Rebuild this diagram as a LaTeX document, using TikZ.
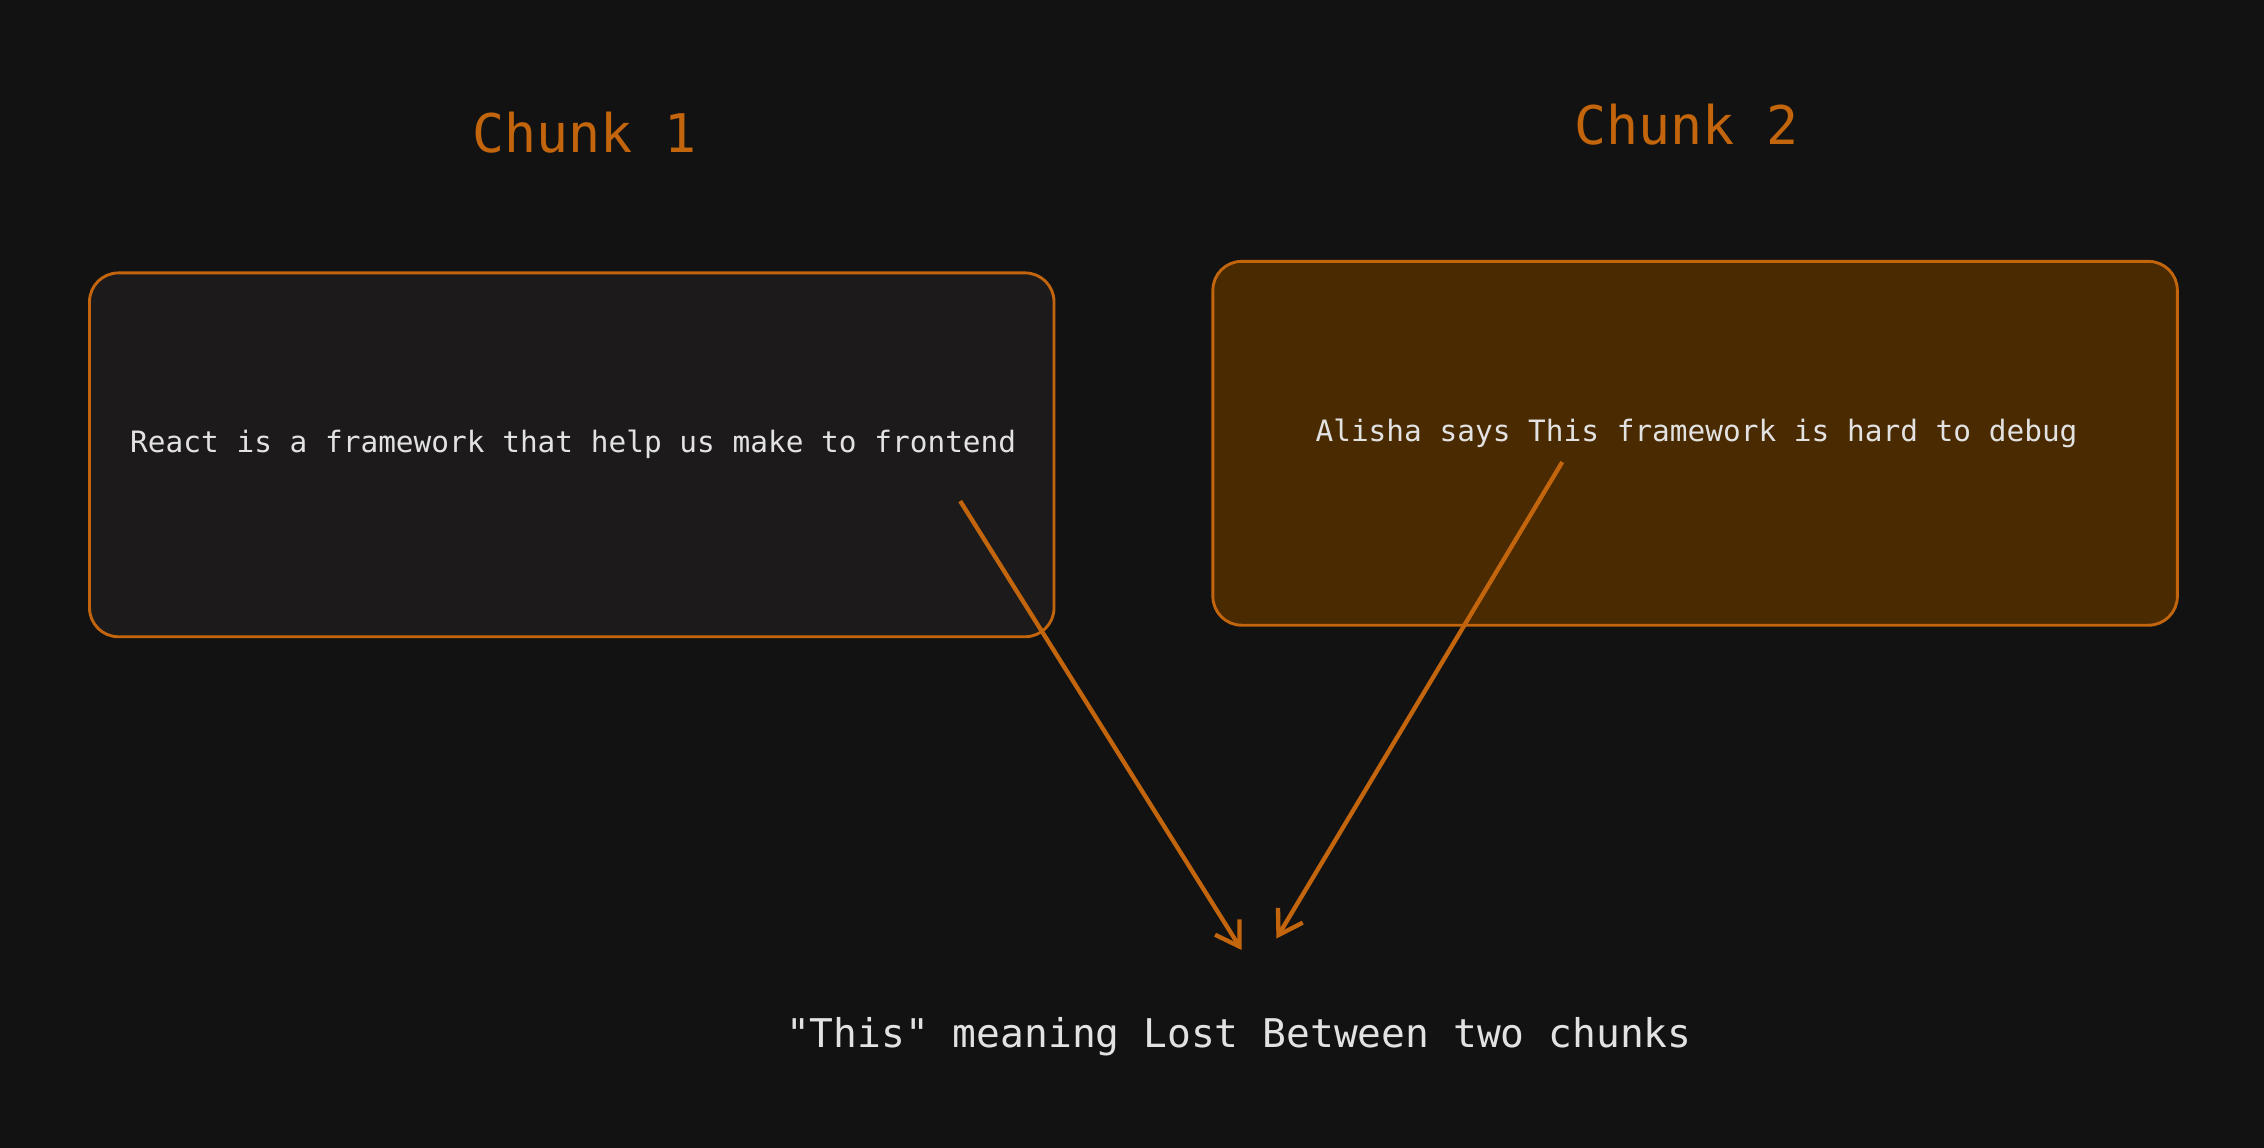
\documentclass[tikz,border=0pt]{standalone}
\usepackage{fontspec}
\setmonofont{DejaVu Sans Mono}
\usetikzlibrary{positioning,arrows.meta}
\definecolor{bgdark}{HTML}{121212}
\definecolor{chunkorange}{HTML}{C2650C}
\definecolor{chunkfill}{HTML}{4A2A00}
\definecolor{hatchfill}{HTML}{1C1A1A}
\definecolor{lighttext}{HTML}{E2E2E2}
\tikzset{
    chunk/.style={rectangle, rounded corners=2mm, draw=chunkorange, line width=0.2mm,
        minimum width=66.8mm, minimum height=25.2mm},
    chunktext/.style={text=lighttext, font=\ttfamily\fontsize{5.8}{7}\selectfont},
    title/.style={text=chunkorange, font=\ttfamily\fontsize{10.5}{12}\selectfont},
    line/.style={-{Straight Barb[length=1.6mm,width=2mm]}, chunkorange, line width=0.3mm},
}
\begin{document}
\begin{tikzpicture}[x=0.1mm,y=-0.1mm]
    \fill[bgdark] (0,0) rectangle (1568,795);
    \useasboundingbox (0,0) rectangle (1568,795);

    % Chunks
    \node[chunk, fill=hatchfill] (chunka) at (396,315) {};
    \node[chunk, fill=chunkfill] (chunkb) at (1174,307) {};
    \node[chunktext] (texta) at (397,308) {React is a framework that help us make to frontend};
    \node[chunktext] (textb) at (1175,300) {Alisha says This framework is hard to debug};
    \node[title] (titlea) at (405,92) {Chunk 1};
    \node[title] (titleb) at (1168,86) {Chunk 2};

    % Result
    \node[text=lighttext, font=\ttfamily\fontsize{7.8}{9}\selectfont] (lost) at (858,718) {"This" meaning Lost Between two chunks};
    \coordinate (fromA) at (665,347);
    \coordinate (fromB) at (1082,320);
    \coordinate (toA) at (860,658);
    \coordinate (toB) at (884,650);

    % Arrows
    \draw[line] (fromA) -- (toA);
    \draw[line] (fromB) -- (toB);
\end{tikzpicture}
\end{document}
